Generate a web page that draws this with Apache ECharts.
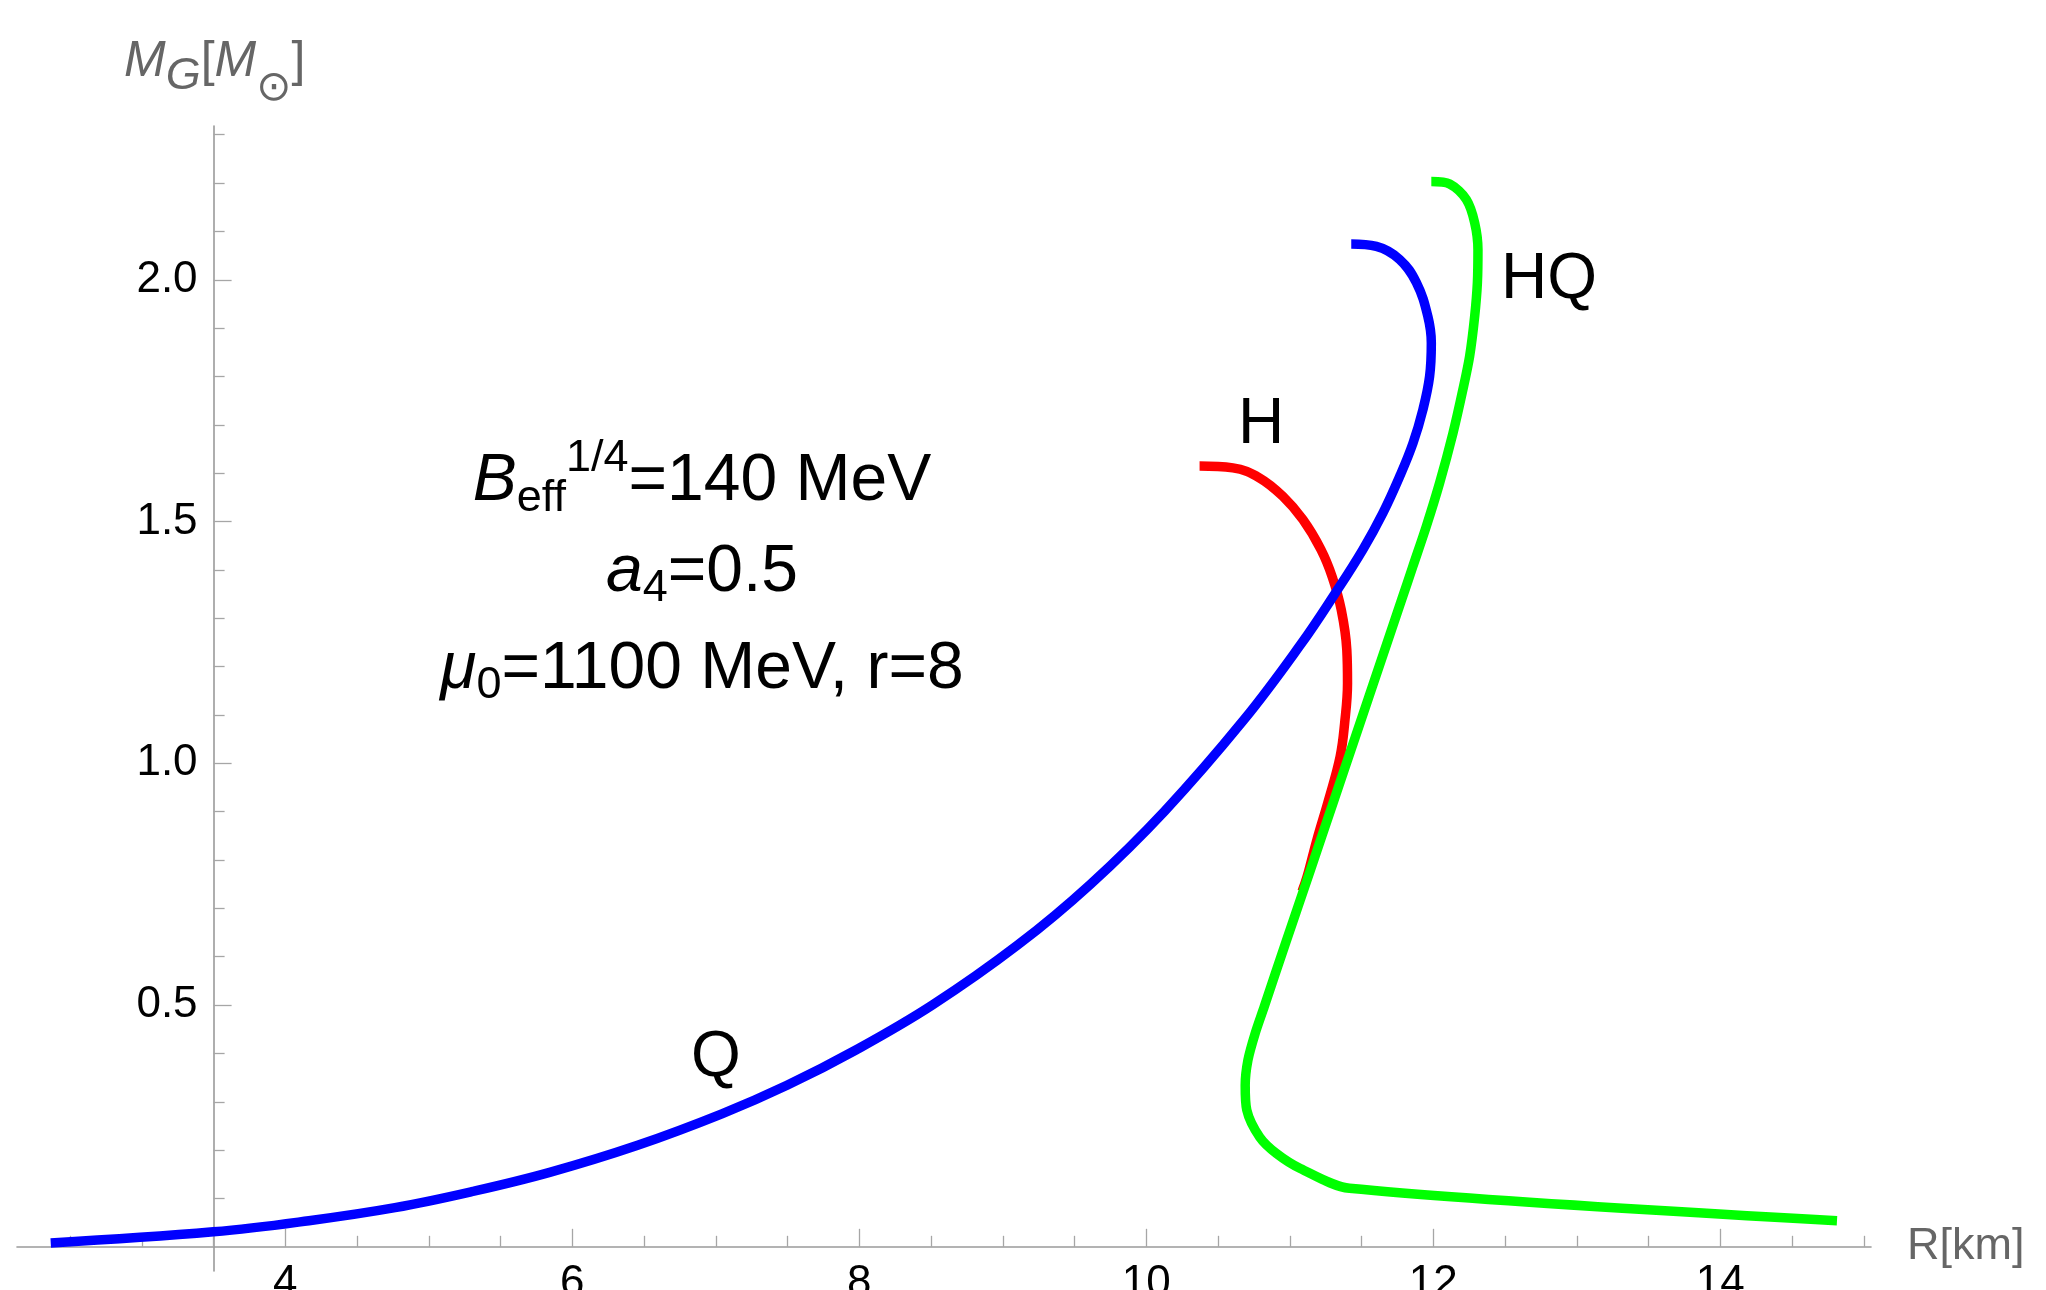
<!DOCTYPE html>
<html><head><meta charset="utf-8">
<script src="https://cdn.jsdelivr.net/npm/echarts@6/dist/echarts.min.js"></script>
<style>html,body{margin:0;padding:0;background:#fff;overflow:hidden}#c{width:2046px;height:1290px}</style>
</head><body><div id="c"></div>
<script>
// Axis ranges and ticks
const xMin = 2.13, xMax = 15.05, yMin = -0.05, yMax = 2.318;
const yAxisCrossX = 3.5;
const xMajorTicks = [4, 6, 8, 10, 12, 14];
const xMinorTicks = [2.5, 3, 3.5, 4.5, 5, 5.5, 6.5, 7, 7.5, 8.5, 9, 9.5, 10.5, 11, 11.5, 12.5, 13, 13.5, 14.5, 15];
const yMajorTicks = [0.5, 1.0, 1.5, 2.0];
const yMinorTicks = [0.1, 0.2, 0.3, 0.4, 0.6, 0.7, 0.8, 0.9, 1.1, 1.2, 1.3, 1.4, 1.6, 1.7, 1.8, 1.9, 2.1, 2.2, 2.3];

// Q (quark star) branch – blue
const qR = [2.365, 3.498, 4.164, 4.764, 5.298, 5.842, 6.455, 7.042, 7.496, 7.976, 8.509, 9.103, 9.611, 10.127, 10.680, 11.074, 11.317, 11.509, 11.649, 11.765, 11.858, 11.927, 11.974, 11.986, 11.962, 11.882, 11.765, 11.603, 11.428];
const qM = [0.008, 0.031, 0.054, 0.081, 0.114, 0.154, 0.210, 0.275, 0.334, 0.407, 0.500, 0.624, 0.750, 0.901, 1.090, 1.245, 1.352, 1.442, 1.518, 1.593, 1.662, 1.731, 1.800, 1.869, 1.924, 1.994, 2.042, 2.069, 2.074];

// H (hadronic) branch – red
const hR = [10.371, 10.603, 10.790, 10.952, 11.091, 11.217, 11.295, 11.358, 11.397, 11.402, 11.382, 11.350, 11.270, 11.188, 11.120, 11.085];
const hM = [1.615, 1.611, 1.590, 1.552, 1.504, 1.442, 1.386, 1.318, 1.235, 1.166, 1.083, 1.013, 0.924, 0.841, 0.765, 0.735];

// HQ (hybrid) branch – green
const hqR = [11.986, 12.114, 12.230, 12.288, 12.311, 12.307, 12.288, 12.253, 12.206, 12.137, 12.044, 11.951, 11.857, 11.779, 11.638, 11.457, 11.300, 11.143, 10.970, 10.822, 10.758, 10.708, 10.689, 10.700, 10.790, 10.907, 11.073, 11.416, 14.813];
const hqM = [2.203, 2.198, 2.166, 2.118, 2.062, 1.994, 1.924, 1.842, 1.773, 1.683, 1.580, 1.490, 1.407, 1.338, 1.214, 1.055, 0.917, 0.779, 0.628, 0.497, 0.441, 0.386, 0.334, 0.283, 0.227, 0.193, 0.162, 0.121, 0.054];

const zip = (a, b) => a.map((v, i) => [v, b[i]]);
const FONT = '"Liberation Sans", Arial, Helvetica, sans-serif';

const W = 2046, gridLeft = 17, gridRight = 175, gridTop = 126, gridBottom = 19;
const gridW = W - gridLeft - gridRight;
const yOffset = -(yAxisCrossX - xMin) / (xMax - xMin) * gridW;

const axisLineStyle = { color: '#9a9a9a', width: 1.6 };
const tickStyle = { color: '#a6a6a6', width: 1.3 };

const chart = echarts.init(document.getElementById('c'));
const lineSeries = (data, color, smooth) => ({
  type: 'line', data, showSymbol: false, symbol: 'none', smooth,
  xAxisIndex: 0, yAxisIndex: 0,
  lineStyle: { color, width: 9.5, cap: 'butt', join: 'round' },
  animation: false, silent: true
});

chart.setOption({
  animation: false,
  backgroundColor: '#fff',
  grid: { left: gridLeft, right: gridRight, top: gridTop, bottom: gridBottom, containLabel: false, outerBoundsMode: 'none' },
  xAxis: [
    {
      type: 'value', min: xMin, max: xMax, position: 'bottom',
      axisLine: { show: true, onZero: true, onZeroAxisIndex: 0, lineStyle: axisLineStyle },
      axisTick: { show: true, inside: true, length: 18, customValues: xMajorTicks, lineStyle: tickStyle },
      axisLabel: { show: true, customValues: xMajorTicks, margin: -9, fontSize: 44, color: '#000', fontFamily: FONT },
      splitLine: { show: false },
      name: 'R[km]', nameLocation: 'end', nameGap: 36,
      nameTextStyle: { fontSize: 45, color: '#666', fontFamily: FONT, verticalAlign: 'middle' }
    },
    {
      type: 'value', min: xMin, max: xMax, position: 'bottom',
      axisLine: { show: true, onZero: true, onZeroAxisIndex: 0, lineStyle: { color: '#9a9a9a', width: 1, opacity: 0 } },
      axisTick: { show: true, inside: true, length: 11, customValues: xMinorTicks, lineStyle: tickStyle },
      axisLabel: { show: false },
      splitLine: { show: false }
    }
  ],
  yAxis: [
    {
      type: 'value', min: yMin, max: yMax, position: 'left', offset: yOffset,
      axisLine: { show: true, onZero: false, lineStyle: axisLineStyle },
      axisTick: { show: true, inside: true, length: 18, customValues: yMajorTicks, lineStyle: tickStyle },
      axisLabel: { show: true, customValues: yMajorTicks, formatter: v => Number(v).toFixed(1), margin: 16, fontSize: 44, color: '#000', fontFamily: FONT },
      splitLine: { show: false }
    },
    {
      type: 'value', min: yMin, max: yMax, position: 'left', offset: yOffset,
      axisLine: { show: true, onZero: false, lineStyle: { color: '#9a9a9a', width: 1, opacity: 0 } },
      axisTick: { show: true, inside: true, length: 11, customValues: yMinorTicks, lineStyle: tickStyle },
      axisLabel: { show: false },
      splitLine: { show: false }
    }
  ],
  series: [
    lineSeries(zip(hR, hM), '#ff0000', 0.4),
    lineSeries(zip(qR, qM), '#0000ff', 0.4),
    lineSeries(zip(hqR, hqM), '#00ff00', 0.3)
  ],
  graphic: [
    {
      type: 'text', x: 124, y: 62,
      style: {
        text: '{m|M}{g|G}{b|[}{m|M}{o|⊙}{b|]}',
        align: 'left', verticalAlign: 'middle', fill: '#666',
        rich: {
          m: { fontSize: 50, fontStyle: 'italic', fontFamily: FONT, fill: '#666' },
          g: { fontSize: 45, fontStyle: 'italic', fontFamily: FONT, fill: '#666', padding: [28, 0, 0, 0] },
          b: { fontSize: 50, fontFamily: FONT, fill: '#666' },
          o: { fontSize: 42, fontFamily: '"DejaVu Sans", sans-serif', fill: '#666', padding: [54, 0, 0, 0] }
        }
      }
    },
    {
      type: 'text', x: 702, y: 482,
      style: {
        text: '{i|B}{sub|eff}{sup|1/4}{n|=140 MeV}',
        align: 'center', verticalAlign: 'middle', fill: '#000',
        rich: {
          i: { fontSize: 66, fontStyle: 'italic', fontFamily: FONT, fill: '#000' },
          sub: { fontSize: 45, fontFamily: FONT, fill: '#000', padding: [33, 0, 0, 0] },
          sup: { fontSize: 45, fontFamily: FONT, fill: '#000', padding: [0, 0, 46, 0] },
          n: { fontSize: 66, fontFamily: FONT, fill: '#000' }
        }
      }
    },
    {
      type: 'text', x: 702, y: 573,
      style: {
        text: '{i|a}{sub|4}{n|=0.5}',
        align: 'center', verticalAlign: 'middle', fill: '#000',
        rich: {
          i: { fontSize: 66, fontStyle: 'italic', fontFamily: FONT, fill: '#000' },
          sub: { fontSize: 45, fontFamily: FONT, fill: '#000', padding: [32, 0, 0, 0] },
          n: { fontSize: 66, fontFamily: FONT, fill: '#000' }
        }
      }
    },
    {
      type: 'text', x: 702, y: 670,
      style: {
        text: '{i|μ}{sub|0}{n|=1100 MeV, r=8}',
        align: 'center', verticalAlign: 'middle', fill: '#000',
        rich: {
          i: { fontSize: 66, fontStyle: 'italic', fontFamily: FONT, fill: '#000' },
          sub: { fontSize: 45, fontFamily: FONT, fill: '#000', padding: [32, 0, 0, 0] },
          n: { fontSize: 66, fontFamily: FONT, fill: '#000' }
        }
      }
    },
    { type: 'text', x: 716, y: 1058, style: { text: 'Q', align: 'center', verticalAlign: 'middle', fontSize: 64, fontFamily: FONT, fill: '#000' } },
    { type: 'text', x: 1261, y: 425, style: { text: 'H', align: 'center', verticalAlign: 'middle', fontSize: 64, fontFamily: FONT, fill: '#000' } },
    { type: 'text', x: 1549, y: 280, style: { text: 'HQ', align: 'center', verticalAlign: 'middle', fontSize: 64, fontFamily: FONT, fill: '#000' } }
  ]
});
</script>
</body></html>
